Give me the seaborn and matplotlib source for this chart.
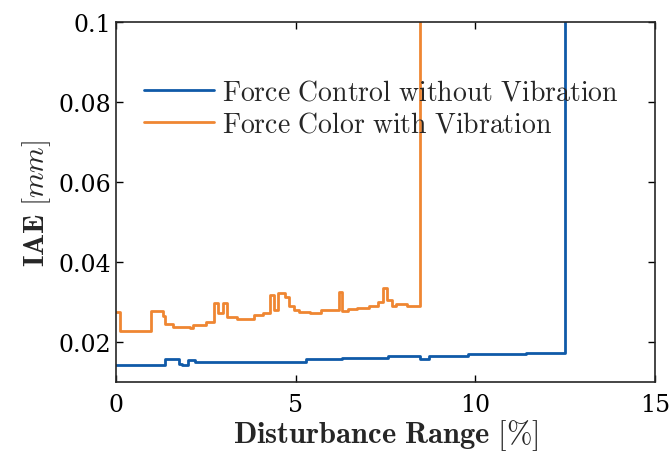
import matplotlib
matplotlib.use('Agg')
import matplotlib.pyplot as plt
import seaborn as sns

# Disturbance range [%] where each step level starts, and the IAE [mm] level
blue_x = [0, 1.36, 1.75, 1.85, 2.0, 2.2, 2.4, 5.28, 6.3, 7.56, 7.9, 8.45, 8.7, 9.8, 11.4, 12.48]
blue_y = [0.0142, 0.0157, 0.0146, 0.0142, 0.0155, 0.0150, 0.0151, 0.0157, 0.0161, 0.0165,
          0.0165, 0.0158, 0.0165, 0.0169, 0.0173, 0.11]

orange_x = [0, 0.12, 0.97, 1.3, 1.36, 1.6, 2.06, 2.15, 2.5, 2.72, 2.84, 2.98, 3.08, 3.36, 3.85,
            4.1, 4.28, 4.4, 4.52, 4.7, 4.82, 4.95, 5.1, 5.4, 5.7, 6.2, 6.3, 6.45, 6.7, 7.05,
            7.3, 7.42, 7.55, 7.68, 7.8, 8.1, 8.46]
orange_y = [0.0275, 0.0228, 0.0277, 0.0265, 0.0245, 0.0238, 0.0236, 0.0243, 0.0251, 0.0297,
            0.0272, 0.0297, 0.0262, 0.0258, 0.0267, 0.0273, 0.0318, 0.0280, 0.0322, 0.0312,
            0.0290, 0.0280, 0.0275, 0.0272, 0.0281, 0.0325, 0.0277, 0.0282, 0.0285, 0.0289,
            0.0300, 0.0335, 0.0305, 0.0291, 0.0295, 0.0291, 0.11]

labels = ['Force Control without Vibration', 'Force Color with Vibration']
xticks = [0, 5, 10, 15]
yticks = [0.02, 0.04, 0.06, 0.08, 0.1]

sns.set_style('ticks')
plt.rcParams['font.family'] = ['DejaVu Serif']
plt.rcParams['mathtext.fontset'] = 'cm'
plt.rcParams['xtick.direction'] = 'in'
plt.rcParams['ytick.direction'] = 'in'

fig, ax = plt.subplots(figsize=(6.7, 4.56), dpi=100)
fig.subplots_adjust(left=0.173, right=0.978, top=0.949, bottom=0.16)

sns.lineplot(x=blue_x, y=blue_y, ax=ax, color='#0f5aa8', lw=2,
             drawstyle='steps-post', sort=False, label=r'$\mathrm{' + labels[0].replace(' ', r'\ ') + '}$')
sns.lineplot(x=orange_x, y=orange_y, ax=ax, color='#ef8632', lw=2,
             drawstyle='steps-post', sort=False, label=r'$\mathrm{' + labels[1].replace(' ', r'\ ') + '}$')

ax.set_xlim(0, 15)
ax.set_ylim(0.01, 0.1)
ax.set_xticks(xticks)
ax.set_xticklabels([str(t) for t in xticks])
ax.set_yticks(yticks)
ax.set_yticklabels(['0.02', '0.04', '0.06', '0.08', '0.1'])
ax.tick_params(top=True, right=True, labelsize=17, length=5, width=1, colors='black')
ax.tick_params(axis='x', pad=8)
for s in ax.spines.values():
    s.set_linewidth(1.2)
    s.set_visible(True)

ax.set_xlabel(r'$\mathbf{Disturbance\ Range\ [\%]}$', fontsize=22, labelpad=1)
ax.set_ylabel(r'$\mathbf{IAE}\ [mm]$', fontsize=21, labelpad=4)

ax.legend(loc='upper left', bbox_to_anchor=(0.032, 0.875), frameon=False, fontsize=20,
          handlelength=2.5, handletextpad=0.3, labelspacing=0.2, borderaxespad=0)

plt.savefig('out.png', dpi=100)
